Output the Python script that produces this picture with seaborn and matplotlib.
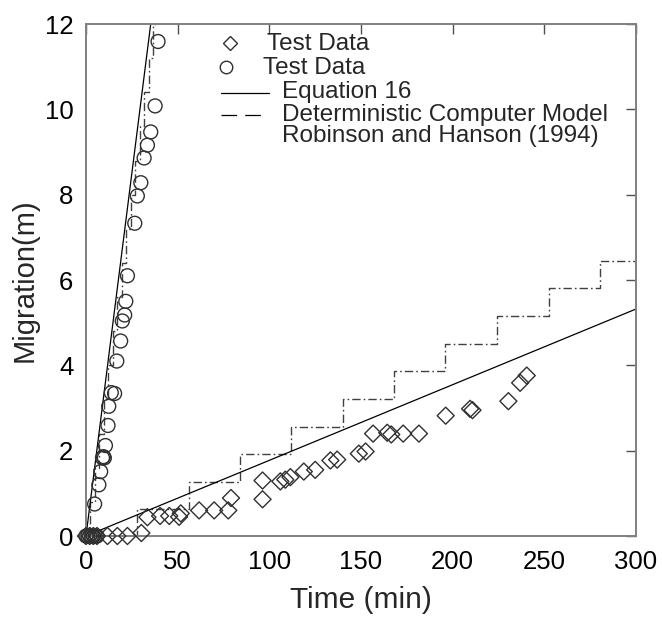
import matplotlib
matplotlib.use("Agg")
import matplotlib.pyplot as plt
from matplotlib.lines import Line2D
import seaborn as sns

# ---------------- data ----------------
# circles: fast test
fast_t = [0, 1, 2, 3, 4, 5, 6, 4.7, 7.0, 8.0, 9.0, 9.5, 10.0, 10.6, 12.0, 12.4,
          13.8, 15.6, 16.8, 18.9, 19.8, 21.1, 21.7, 22.6, 26.6, 28.0, 29.9, 31.7,
          33.5, 35.3, 37.7, 39.3]
fast_m = [0, 0, 0, 0, 0, 0, 0, 0.75, 1.20, 1.51, 1.83, 1.86, 1.83, 2.12, 2.59, 3.04,
          3.36, 3.34, 4.10, 4.57, 5.04, 5.18, 5.50, 6.10, 7.33, 7.97, 8.28, 8.86,
          9.16, 9.47, 10.08, 11.59]

# diamonds: slow test
slow_t = [0, 2, 4, 6, 11.7, 17.1, 22.6, 30.2, 33.5, 40.4, 45.4, 50.8, 51.7, 61.7,
          69.9, 77.6, 79.1, 96.3, 96.3, 106.0, 108.7, 111.5, 118.8, 125.0, 133.3,
          137.0, 148.8, 152.5, 156.6, 164.3, 166.5, 173.0, 181.6, 196.2, 209.5,
          210.8, 230.4, 236.8, 240.4]
slow_m = [0, 0, 0, 0, 0, 0, 0, 0.07, 0.44, 0.47, 0.47, 0.45, 0.53, 0.60,
          0.60, 0.60, 0.89, 1.30, 0.86, 1.28, 1.32, 1.38, 1.51, 1.55, 1.77,
          1.79, 1.93, 1.98, 2.40, 2.42, 2.38, 2.40, 2.40, 2.82, 2.98,
          2.95, 3.16, 3.59, 3.76]

# Equation 16 lines
eq_fast_t = [0, 35.3]
eq_fast_m = [0, 12.0]
eq_slow_t = [0, 300]
eq_slow_m = [0, 5.32]

# Deterministic computer model (staircases)
det_fast_t = [0, 2.45, 4.9, 7.35, 9.8, 12.25, 14.7, 17.15, 19.6, 22.05, 24.5,
              26.95, 29.4, 31.85, 34.3, 36.75, 38.0]
det_fast_m = [0, 0.8, 1.6, 2.4, 3.2, 4.0, 4.8, 5.6, 6.4, 7.2, 8.0,
              8.8, 9.6, 10.4, 11.2, 12.0, 12.0]
det_slow_t = [0, 28, 56, 84, 112, 140, 168, 196, 224, 252.5, 280.5, 300]
det_slow_m = [0, 0.64, 1.27, 1.93, 2.56, 3.21, 3.87, 4.51, 5.15, 5.81, 6.44, 6.44]

x_ticks = [0, 50, 100, 150, 200, 250, 300]
y_ticks = [0, 2, 4, 6, 8, 10, 12]

legend_labels = ["Test Data", "Test Data", "Equation 16",
                 "Deterministic Computer Model", "Robinson and Hanson (1994)"]

# ---------------- style ----------------
sns.set_style("white")
plt.rcParams["font.family"] = ["Liberation Sans", "DejaVu Sans"]

W, H = 662, 617
fig = plt.figure(figsize=(W / 100, H / 100), dpi=100)
L, R, T, B = 86, 636, 24, 536
ax = fig.add_axes([L / W, 1 - B / H, (R - L) / W, (B - T) / H])

edge = "#303030"
dashdot = (0, (6, 2.2, 1.2, 2.2))

# staircases
for tt, mm in [(det_fast_t, det_fast_m), (det_slow_t, det_slow_m)]:
    sns.lineplot(x=tt, y=mm, ax=ax, estimator=None, sort=False,
                 drawstyle="steps-post", color="#404040", linewidth=1.0,
                 linestyle=dashdot)

# equation 16
for tt, mm in [(eq_fast_t, eq_fast_m), (eq_slow_t, eq_slow_m)]:
    sns.lineplot(x=tt, y=mm, ax=ax, estimator=None, sort=False,
                 color="black", linewidth=0.9)

# markers
sns.scatterplot(x=slow_t, y=slow_m, ax=ax, marker="D", s=75,
                facecolor="none", edgecolor=edge, linewidth=1.0, clip_on=False,
                zorder=5)
sns.scatterplot(x=fast_t, y=fast_m, ax=ax, marker="o", s=100,
                facecolor="none", edgecolor=edge, linewidth=1.0, clip_on=False,
                zorder=5)

ax.set_xlim(0, 300)
ax.set_ylim(0, 12)
ax.set_xticks(x_ticks)
ax.set_yticks(y_ticks)
ax.tick_params(direction="in", length=7.5, width=1.0, color="#505050",
               top=True, right=True, labelsize=18.5, labelcolor="black")
ax.tick_params(axis="x", pad=10)
ax.tick_params(axis="y", pad=9)
for sp in ax.spines.values():
    sp.set_color("#808080")
    sp.set_linewidth(1.4)
    sp.set_visible(True)

ax.set_xlabel("Time (min)", fontsize=21.5)
ax.set_ylabel("Migration(m)", fontsize=21)
ax.xaxis.set_label_coords(0.5, -(600 - B) / (B - T))
ax.xaxis.label.set_va("center")
ax.yaxis.set_label_coords((25 - L) / (R - L), 0.5)
ax.yaxis.label.set_va("center")

# ---------------- manual legend ----------------
def fx(x):
    return x / W

def fy(y):
    return 1 - y / H

lf = 17.5
fig.add_artist(Line2D([fx(230)], [fy(43)], marker="D", markersize=7,
                      markerfacecolor="none", markeredgecolor=edge,
                      markeredgewidth=1.0, linestyle="none"))
fig.add_artist(Line2D([fx(226)], [fy(67)], marker="o", markersize=9,
                      markerfacecolor="none", markeredgecolor=edge,
                      markeredgewidth=1.0, linestyle="none"))
fig.add_artist(Line2D([fx(221), fx(269)], [fy(93), fy(93)], color="black",
                      linewidth=0.9))
fig.add_artist(Line2D([fx(221), fx(262)], [fy(115), fy(115)], color="black",
                      linewidth=0.9, linestyle=(0, (12.5, 6.5))))
fig.text(fx(267), fy(50), legend_labels[0], fontsize=lf, va="baseline")
fig.text(fx(263), fy(74), legend_labels[1], fontsize=lf, va="baseline")
fig.text(fx(282), fy(98), legend_labels[2], fontsize=lf, va="baseline")
fig.text(fx(282), fy(121), legend_labels[3], fontsize=lf, va="baseline")
fig.text(fx(282), fy(142), legend_labels[4], fontsize=lf, va="baseline")

fig.savefig("out.png", dpi=100)
